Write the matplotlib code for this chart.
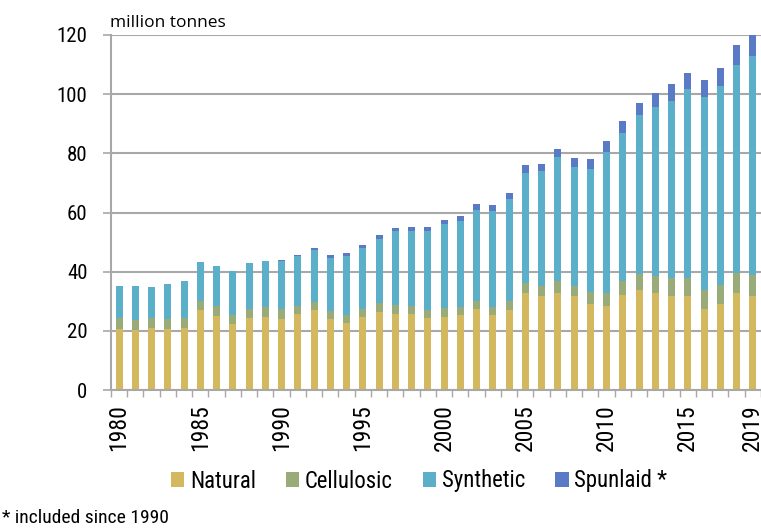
import matplotlib
matplotlib.use('Agg')
import matplotlib.pyplot as plt
import numpy as np
from matplotlib import font_manager
from matplotlib.patches import Patch

years = list(range(1980, 2020))

natural = [20.7, 20.3, 21.0, 20.7, 21.0, 27.1, 25.0, 22.3, 24.3, 24.8,
           24.0, 25.7, 27.1, 24.0, 22.8, 24.6, 26.5, 25.8, 25.6, 24.4,
           24.8, 25.3, 27.4, 25.4, 27.1, 32.8, 31.7, 32.8, 31.7, 29.1,
           28.5, 32.2, 33.9, 32.7, 31.7, 31.7, 27.3, 29.1, 32.7, 31.9]
cellulosic = [3.6, 3.5, 3.3, 3.4, 3.5, 3.1, 3.3, 3.2, 3.2, 3.3,
              3.3, 2.7, 2.6, 2.6, 2.7, 2.8, 2.8, 2.9, 2.7, 2.5,
              2.8, 2.9, 2.8, 2.8, 3.1, 3.4, 3.4, 3.9, 3.4, 4.0,
              4.2, 4.6, 5.4, 6.0, 6.1, 6.1, 6.6, 6.4, 6.9, 7.1]
synthetic = [10.8, 11.4, 10.5, 11.7, 12.5, 13.0, 13.7, 14.7, 15.4, 15.6,
             16.3, 17.0, 17.7, 18.1, 19.9, 20.6, 21.8, 24.9, 25.6, 26.8,
             28.6, 28.8, 30.8, 32.3, 34.2, 37.3, 38.8, 42.0, 40.3, 41.6,
             47.7, 50.2, 53.6, 56.8, 59.9, 63.8, 65.0, 67.3, 70.2, 74.0]
spunlaid = [0, 0, 0, 0, 0, 0, 0, 0, 0, 0,
            0.4, 0.4, 0.6, 0.8, 0.9, 1.0, 1.2, 1.1, 1.3, 1.4,
            1.4, 1.7, 2.0, 2.1, 2.3, 2.4, 2.6, 2.9, 3.0, 3.5,
            3.8, 4.0, 4.2, 4.9, 5.6, 5.4, 5.8, 6.1, 6.8, 7.5]

series_names = ['Natural', 'Cellulosic', 'Synthetic', 'Spunlaid *']
tick_years = [1980, 1985, 1990, 1995, 2000, 2005, 2010, 2015, 2019]
y_ticks = [0, 20, 40, 60, 80, 100, 120]

colors = ['#d4b860', '#98ab78', '#5bafc9', '#5a7ac6']
grid_color = '#a8a8a8'


def pick_font(names):
    for name in names:
        try:
            font_manager.findfont(font_manager.FontProperties(family=name), fallback_to_default=False)
            return name
        except ValueError:
            continue
    return 'DejaVu Sans'


narrow = pick_font(['Liberation Sans Narrow', 'Roboto Condensed', 'Roboto'])
plain = pick_font(['Open Sans', 'Noto Sans'])
plt.rcParams['font.family'] = [narrow, 'DejaVu Sans']

W, H = 761, 530
fig = plt.figure(figsize=(W / 100, H / 100), dpi=100)
ax = fig.add_axes([111 / W, 1 - 390 / H, (W - 111) / W, (390 - 35) / H])

bottom = np.zeros(len(years))
for values, color in zip([natural, cellulosic, synthetic, spunlaid], colors):
    ax.bar(years, values, bottom=bottom, width=0.43, color=color, linewidth=0, zorder=3)
    bottom += np.array(values)

ax.set_xlim(1979.53, 2019.41)
ax.set_ylim(0, 120)

ax.set_yticks(y_ticks)
ax.yaxis.grid(True, color=grid_color, linewidth=1.5, zorder=0)
ax.tick_params(axis='y', length=6, width=1.2, color=grid_color, pad=11, labelsize=15)

ax.set_xticks(tick_years, labels=[str(y) for y in tick_years], rotation=90)
ax.set_xticks(np.arange(1979.5, 2020, 1), minor=True)
ax.tick_params(axis='x', which='major', length=0, pad=10, labelsize=17)
ax.tick_params(axis='x', which='minor', length=5, width=1, color=grid_color)

for side in ['top', 'right']:
    ax.spines[side].set_visible(False)
for side in ['left', 'bottom']:
    ax.spines[side].set_color(grid_color)
    ax.spines[side].set_linewidth(1.5)
    ax.spines[side].set_zorder(4)

fig.text(110 / W, 1 - 27 / H, 'million tonnes', fontsize=12.5, family=plain, va='baseline', ha='left')

handles = [Patch(facecolor=c, edgecolor='none') for c in colors]
fig.legend(handles, series_names, loc='center', bbox_to_anchor=(419 / W, 1 - 481 / H), ncol=4,
           frameon=False, fontsize=16.4, handlelength=0.6, handleheight=0.6, handletextpad=0.25,
           columnspacing=1.3)

fig.text(2 / W, 1 - 518 / H, '* included since 1990', fontsize=14, va='center', ha='left')

fig.savefig('out.png', dpi=100)
